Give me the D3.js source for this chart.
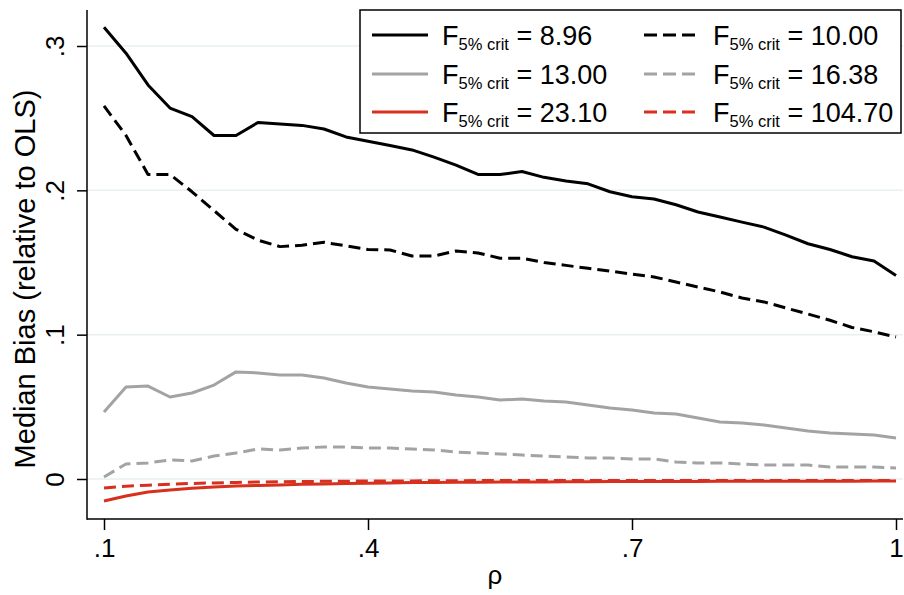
<!DOCTYPE html>
<html>
<head>
<meta charset="utf-8">
<script src="https://cdn.jsdelivr.net/npm/d3@7"></script>
<style>
  html, body { margin: 0; padding: 0; background: #fff; }
  svg { display: block; font-family: "Liberation Sans", Arial, sans-serif; }
</style>
</head>
<body>
<svg id="chart" width="904" height="595"></svg>
<script>
// ---------------- data ----------------
const rho = [0.1, 0.125, 0.15, 0.175, 0.2, 0.225, 0.25, 0.275, 0.3, 0.325, 0.35, 0.375,
             0.4, 0.425, 0.45, 0.475, 0.5, 0.525, 0.55, 0.575, 0.6, 0.625, 0.65, 0.675,
             0.7, 0.725, 0.75, 0.775, 0.8, 0.825, 0.85, 0.875, 0.9, 0.925, 0.95, 0.975, 1.0];

const bias_896 = [0.313, 0.295, 0.273, 0.257, 0.251, 0.238, 0.238, 0.247, 0.246, 0.245, 0.2425, 0.237,
                  0.234, 0.231, 0.228, 0.223, 0.2175, 0.211, 0.211, 0.213, 0.209, 0.2065, 0.2045, 0.199,
                  0.1955, 0.194, 0.190, 0.185, 0.1815, 0.178, 0.1745, 0.169, 0.163, 0.159, 0.154, 0.151, 0.141];

const bias_1000 = [0.2585, 0.238, 0.211, 0.211, 0.199, 0.186, 0.173, 0.1655, 0.161, 0.162, 0.164, 0.1615,
                   0.159, 0.1587, 0.1545, 0.1545, 0.158, 0.1566, 0.153, 0.153, 0.150, 0.148, 0.146, 0.144,
                   0.142, 0.140, 0.1365, 0.133, 0.1296, 0.1254, 0.1227, 0.1185, 0.1143, 0.110, 0.105, 0.102, 0.0984];

const bias_1300 = [0.0464, 0.0638, 0.0644, 0.0568, 0.0596, 0.0651, 0.0742, 0.0735, 0.0721, 0.0721, 0.070, 0.0665,
                   0.0638, 0.0624, 0.061, 0.0603, 0.0582, 0.0568, 0.0547, 0.0554, 0.054, 0.0534, 0.0513, 0.0492,
                   0.0478, 0.0457, 0.045, 0.0423, 0.0395, 0.0388, 0.0374, 0.0353, 0.0333, 0.0319, 0.0312, 0.0305, 0.0284];

const bias_1638 = [0.0014, 0.0104, 0.0111, 0.0132, 0.0125, 0.0159, 0.018, 0.0208, 0.0201, 0.0215, 0.0222, 0.0222,
                   0.0215, 0.0215, 0.0208, 0.0201, 0.0187, 0.018, 0.0173, 0.0166, 0.0159, 0.0152, 0.0146, 0.0146,
                   0.0139, 0.0139, 0.0118, 0.0111, 0.0111, 0.0104, 0.0097, 0.0097, 0.0097, 0.0083, 0.0083, 0.0083, 0.0076];

const bias_2310 = [-0.0152, -0.0118, -0.0090, -0.0076, -0.0064, -0.0056, -0.0049, -0.0045, -0.0041, -0.0037, -0.0034, -0.0031,
                   -0.0029, -0.0027, -0.0025, -0.0024, -0.0023, -0.0022, -0.0021, -0.0020, -0.0020, -0.0019, -0.0019, -0.0018,
                   -0.0018, -0.0017, -0.0017, -0.0017, -0.0016, -0.0016, -0.0016, -0.0015, -0.0015, -0.0015, -0.0015, -0.0014, -0.0014];

const bias_10470 = [-0.0062, -0.0050, -0.0043, -0.0036, -0.0031, -0.0027, -0.0024, -0.0021, -0.0019, -0.0017, -0.0016, -0.0015,
                    -0.0014, -0.0013, -0.0013, -0.0012, -0.0012, -0.0011, -0.0011, -0.0011, -0.0011, -0.0010, -0.0010, -0.0010,
                    -0.0010, -0.0010, -0.0010, -0.0010, -0.0010, -0.0010, -0.0010, -0.0010, -0.0010, -0.0010, -0.0010, -0.0010, -0.0010];

const seriesLabels = ["8.96", "10.00", "13.00", "16.38", "23.10", "104.70"];
const xTicks = [0.1, 0.4, 0.7, 1.0];
const xTickLabels = [".1", ".4", ".7", "1"];
const yTicks = [0, 0.1, 0.2, 0.3];
const yTickLabels = ["0", ".1", ".2", ".3"];
const xTitle = "ρ";
const yTitle = "Median Bias (relative to OLS)";

// ---------------- styles ----------------
const styles = [
  { color: "#000000", dash: null },
  { color: "#000000", dash: "12,6" },
  { color: "#a3a3a3", dash: null },
  { color: "#a3a3a3", dash: "12,6" },
  { color: "#d7301f", dash: null },
  { color: "#d7301f", dash: "12,6" }
];
const seriesValues = [bias_896, bias_1000, bias_1300, bias_1638, bias_2310, bias_10470];

// ---------------- layout ----------------
const svg = d3.select("#chart");
const plotLeft = 87, plotRight = 903, plotTop = 10, plotBottom = 519;

const x = d3.scaleLinear().domain([0.1, 1.0]).range([104, 896]);
const y = d3.scaleLinear().domain([0, 0.3]).range([479, 46]);

// gridlines
svg.append("g").selectAll("line").data(yTicks).join("line")
  .attr("x1", plotLeft).attr("x2", plotRight)
  .attr("y1", d => y(d)).attr("y2", d => y(d))
  .attr("stroke", "#e9f0f2").attr("stroke-width", 1.5);

// lines
const lineGen = d3.line().x((d, i) => x(rho[i])).y(d => y(d));
const order = [5, 4, 3, 2, 1, 0];
svg.append("g").selectAll("path").data(order).join("path")
  .attr("d", k => lineGen(seriesValues[k]))
  .attr("fill", "none")
  .attr("stroke", k => styles[k].color)
  .attr("stroke-width", 3)
  .attr("stroke-linejoin", "round")
  .attr("stroke-dasharray", k => styles[k].dash);

// axes
const xAxis = d3.axisBottom(x).tickValues(xTicks).tickSize(11).tickSizeOuter(0)
  .tickFormat((d, i) => xTickLabels[i]);
const gx = svg.append("g").attr("transform", `translate(0,${plotBottom})`).call(xAxis);
gx.select(".domain").remove();
gx.selectAll(".tick line").attr("stroke", "#000").attr("stroke-width", 1.5);
gx.selectAll(".tick text").attr("font-size", 26).attr("fill", "#000").attr("dy", null).attr("y", 38)
  .attr("font-family", "Liberation Sans, Arial, sans-serif");
svg.append("line").attr("x1", plotLeft).attr("x2", plotRight)
  .attr("y1", plotBottom).attr("y2", plotBottom).attr("stroke", "#000").attr("stroke-width", 1.5);

const yAxis = d3.axisLeft(y).tickValues(yTicks).tickSize(10).tickSizeOuter(0)
  .tickFormat((d, i) => yTickLabels[i]);
const gy = svg.append("g").attr("transform", `translate(${plotLeft},0)`).call(yAxis);
gy.select(".domain").remove();
gy.selectAll(".tick line").attr("stroke", "#000").attr("stroke-width", 1.5);
gy.selectAll(".tick text").attr("font-size", 26).attr("fill", "#000")
  .attr("x", null).attr("dy", null)
  .attr("text-anchor", "middle")
  .attr("transform", "translate(-23,0) rotate(-90)")
  .attr("font-family", "Liberation Sans, Arial, sans-serif");
svg.append("line").attr("x1", plotLeft).attr("x2", plotLeft)
  .attr("y1", plotTop).attr("y2", plotBottom + 0.75).attr("stroke", "#000").attr("stroke-width", 1.5);

// titles
svg.append("text").attr("x", (plotLeft + plotRight) / 2).attr("y", 584)
  .attr("text-anchor", "middle").attr("font-size", 26).text(xTitle);
svg.append("text")
  .attr("transform", `translate(35,279) rotate(-90)`)
  .attr("text-anchor", "middle").attr("font-size", 29).text(yTitle);

// legend
const lg = svg.append("g");
lg.append("rect").attr("x", 360).attr("y", 10).attr("width", 541).attr("height", 123)
  .attr("fill", "#fff").attr("stroke", "#000").attr("stroke-width", 1.5);
const colX = [[372, 428, 442], [644, 695, 713]];
const rowY = [35, 74, 112];
seriesLabels.forEach((lab, k) => {
  const c = k % 2, r = Math.floor(k / 2);
  lg.append("line").attr("x1", colX[c][0]).attr("x2", colX[c][1])
    .attr("y1", rowY[r]).attr("y2", rowY[r])
    .attr("stroke", styles[k].color).attr("stroke-width", 3)
    .attr("stroke-dasharray", styles[k].dash ? "13,6" : null);
  const t = lg.append("text").attr("x", colX[c][2]).attr("y", rowY[r] + 10).attr("font-size", 27);
  t.append("tspan").text("F");
  t.append("tspan").attr("font-size", 16.5).attr("dy", 5).text("5% crit");
  t.append("tspan").attr("dy", -5).text(" = " + lab);
});
</script>
</body>
</html>
